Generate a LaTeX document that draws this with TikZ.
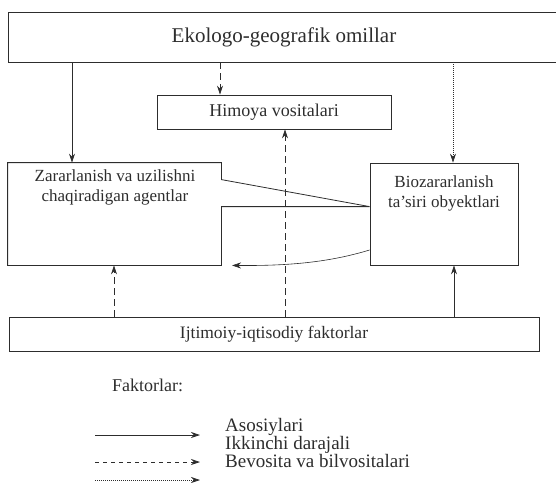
\documentclass[tikz,border=0pt]{standalone}
\usepackage{fontspec}
\setmainfont{Liberation Serif}
\usepackage{xcolor}
\usepackage{tikz}
\usetikzlibrary{positioning,calc,arrows.meta}
\definecolor{InkGray}{RGB}{45,45,45}

\begin{document}
\begin{tikzpicture}[x=1pt,y=-1pt]
	\tikzset{
		eknode/.style={
			draw=InkGray,
			line width=0.8pt,
			inner sep=0pt,
			text=InkGray,
			font=\fontsize{17}{20}\selectfont
		},
		ektext/.style={
			inner sep=1pt,
			align=center,
			text=InkGray,
			font=\fontsize{17}{20}\selectfont
		},
		ekmain/.style={draw=InkGray, line width=0.8pt, -{Stealth[length=9pt,width=6pt]}},
		eksecond/.style={ekmain, dash pattern=on 7pt off 4pt},
		ekdirect/.style={ekmain, line width=0.7pt, dash pattern=on 1pt off 1pt}
	}
	\useasboundingbox (0,0) rectangle (556,482);
	
	% boxes
	\node[eknode, minimum width=552pt, minimum height=50pt, font=\fontsize{21}{24}\selectfont] (ekol) at (284,37) {Ekologo-geografik omillar};
	\node[eknode, minimum width=234pt, minimum height=34pt, font=\fontsize{18}{20}\selectfont] (himoya) at (274,112) {Himoya vositalari};
	\node[eknode, minimum width=148pt, minimum height=102pt] (bio) at (444,214) {};
	\node[ektext] (biotxt) at (444,193) {Biozararlanish\\ta'siri obyektlari};
	\node[eknode, draw=none, minimum width=213pt, minimum height=102pt] (agent) at (114.5,214) {};
	\node[ektext] (agenttxt) at (115,187) {Zararlanish va uzilishni\\chaqiradigan agentlar};
	\draw[InkGray, line width=0.8pt] (agent.north east) -- (agent.north west) -- (agent.south west) -- (agent.south east)
		-- ($(agent.north east)+(0,44)$) -- ($(bio.north west)+(0,44)$) -- ($(agent.north east)+(0,17)$) -- cycle;
	\node[eknode, minimum width=530pt, minimum height=34pt, font=\fontsize{17.5}{20}\selectfont] (ijtim) at (274,334) {Ijtimoiy-iqtisodiy faktorlar};
	
	% links
	\draw[ekmain] (ekol.south -| 72,0) -- (agent.north -| 72,0);
	\draw[eksecond] (ekol.south -| 220,0) -- (himoya.north -| 220,0);
	\draw[ekdirect] (ekol.south -| 453,0) -- (bio.north -| 453,0);
	\draw[eksecond] (ijtim.north -| 285,0) -- (himoya.south -| 285,0);
	\draw[eksecond] (ijtim.north -| 114,0) -- (agent.south -| 114,0);
	\draw[ekmain] (ijtim.north -| 454,0) -- (bio.south -| 454,0);
	\draw[ekmain, line width=0.6pt] (bio.west |- 0,250) .. controls (330,262) and (290,266) .. (agent.south -| 232,0);
	
	% legend
	\node[ektext, anchor=west, font=\fontsize{18}{20}\selectfont] (faktor) at (111,385) {Faktorlar:};
	\node[ektext, anchor=west, align=left, inner sep=0pt, font=\fontsize{19}{16}\selectfont] (legtxt) at (225,443) {Asosiylari\\Ikkinchi darajali\\Bevosita va bilvositalari};
	\coordinate (asosA) at (95,435);
	\coordinate (asosB) at (200,435);
	\coordinate (ikkiA) at (95,462);
	\coordinate (ikkiB) at (200,462);
	\coordinate (bevosA) at (95,480);
	\coordinate (bevosB) at (200,480);
	\draw[ekmain] (asosA) -- (asosB);
	\draw[ekmain, dash pattern=on 4pt off 4pt] (ikkiA) -- (ikkiB);
	\draw[ekdirect] (bevosA) -- (bevosB);
\end{tikzpicture}
\end{document}
